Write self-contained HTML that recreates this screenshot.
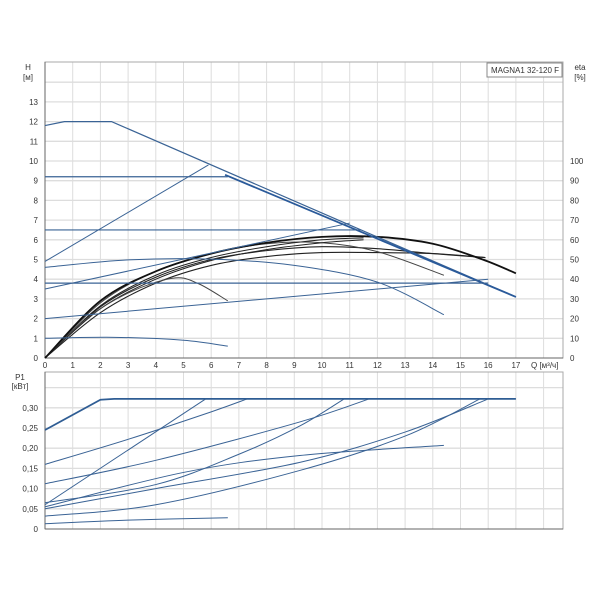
<!DOCTYPE html>
<html><head><meta charset="utf-8"><style>
html,body{margin:0;padding:0;background:#fff;width:600px;height:600px;overflow:hidden}
text{font-family:"Liberation Sans",sans-serif;font-size:8px;fill:#333}
</style></head><body>
<svg id="s" width="600" height="600" xmlns="http://www.w3.org/2000/svg"></svg>
<script>
var s=document.getElementById('s'),h='';
var X0=45,KX=27.7;
function tx(q){return X0+q*KX}
function ty(H){return 358-H*19.7}
function by(p){return 529-p*404}
// top grid
for(var i=0;i<=18;i++){var x=tx(i);h+='<line x1="'+x+'" y1="62" x2="'+x+'" y2="358" stroke="#ddd" stroke-width="1"/>';
 h+='<line x1="'+x+'" y1="372" x2="'+x+'" y2="529" stroke="#ddd" stroke-width="1"/>';}
for(var i=1;i<=14;i++){var y=ty(i);h+='<line x1="45" y1="'+y+'" x2="563" y2="'+y+'" stroke="#ddd" stroke-width="1.3"/>';}
for(var i=1;i<=7;i++){var y=by(i*0.05);h+='<line x1="45" y1="'+y+'" x2="563" y2="'+y+'" stroke="#ddd" stroke-width="1.3"/>';}
// frames
h+='<rect x="45" y="62" width="518" height="296" fill="none" stroke="#aaa"/>';
h+='<rect x="45" y="372" width="518" height="157" fill="none" stroke="#aaa"/>';
h+='<line x1="45" y1="62" x2="45" y2="358" stroke="#666"/><line x1="45" y1="358" x2="563" y2="358" stroke="#666"/>';
h+='<line x1="45" y1="372" x2="45" y2="529" stroke="#666"/><line x1="45" y1="529" x2="563" y2="529" stroke="#666"/>';
// labels
for(var i=0;i<=13;i++)h+='<text x="38" y="'+(ty(i)+3)+'" text-anchor="end">'+i+'</text>';
for(var i=0;i<=10;i++)h+='<text x="570" y="'+(ty(i)+3)+'">'+(i*10)+'</text>';
for(var i=0;i<=17;i++)h+='<text x="'+tx(i)+'" y="368" text-anchor="middle">'+i+'</text>';
var pl=['0','0,05','0,10','0,15','0,20','0,25','0,30'];
for(var i=0;i<7;i++)h+='<text x="38" y="'+(by(i*0.05)+3)+'" text-anchor="end">'+pl[i]+'</text>';
h+='<text x="28" y="70" text-anchor="middle">H</text><text x="28" y="80" text-anchor="middle">[м]</text>';
h+='<text x="580" y="70" text-anchor="middle">eta</text><text x="580" y="80" text-anchor="middle">[%]</text>';
h+='<text x="531" y="368">Q [м³/ч]</text>';
h+='<text x="20" y="380" text-anchor="middle">P1</text><text x="20" y="389" text-anchor="middle">[кВт]</text>';
h+='<rect x="487" y="63" width="75" height="14" fill="#fff" stroke="#888"/><text x="491" y="73">MAGNA1 32-120 F</text>';
function cr(pts,f){ // catmull-rom
 var P=pts.map(function(p){return [tx(p[0]),f(p[1])]});var d='M'+P[0][0]+','+P[0][1];
 for(var i=0;i<P.length-1;i++){var p0=P[i-1]||P[i],p1=P[i],p2=P[i+1],p3=P[i+2]||p2;
 d+=' C'+(p1[0]+(p2[0]-p0[0])/6)+','+(p1[1]+(p2[1]-p0[1])/6)+' '+(p2[0]-(p3[0]-p1[0])/6)+','+(p2[1]-(p3[1]-p1[1])/6)+' '+p2[0]+','+p2[1];}
 return d;}
function line(pts,f,c,w){h+='<path d="'+cr(pts,f)+'" fill="none" stroke="'+c+'" stroke-width="'+w+'"/>';}
function pline(pts,f,c,w){h+='<polyline points="'+pts.map(function(p){return tx(p[0])+','+f(p[1])}).join(' ')+'" fill="none" stroke="'+c+'" stroke-width="'+w+'"/>';}
var B='#3a6395';
// black eta curves
var K='#222';
line([[0,0],[2,2.3],[4,3.8],[6,4.7],[8,5.15],[10,5.35],[12,5.35],[14,5.3],[15.9,5.1]],ty,K,1.1);
line([[0,0],[2,2.6],[4,4.1],[6,5],[8,5.45],[10,5.65],[12,5.55],[14,5.3],[15.9,5.1]],ty,K,1.1);
line([[0,0],[2,2.8],[4,4.4],[6,5.3],[8,5.8],[10,5.85],[12,5.4],[14.4,4.2]],ty,'#444',1);
line([[0,0],[2,2.5],[4,4.0],[6,4.95],[8,5.5],[10,5.85],[11.5,6]],ty,K,1);
line([[0,0],[2,2.65],[4,4.2],[6,5.1],[8,5.65],[10,6],[11.5,6.1]],ty,K,1);
line([[0,0],[1.5,2],[3,3.3],[4.6,4.05],[5.5,3.8],[6.6,2.9]],ty,'#444',1);
line([[0,0],[2,2.9],[4,4.4],[6,5.3],[8,5.85],[10,6.15],[12,6.15],[14,5.8],[15.8,5.0],[17,4.3]],ty,'#111',1.8);
// blue top
pline([[0,11.8],[0.7,12],[2.4,12],[11,6.75],[17,3.1]],ty,B,1.2);
pline([[6.5,9.3],[17,3.1]],ty,'#2a5a9a',1.8);
pline([[0,9.2],[6.6,9.2]],ty,B,1.2);
pline([[0,4.9],[5.9,9.8]],ty,B,1);
pline([[0,6.5],[11.4,6.5]],ty,B,1.2);
pline([[0,3.5],[11,6.85]],ty,B,1);
line([[0,4.6],[3,4.98],[6,5.02],[9,4.7],[12,3.85],[14.4,2.2]],ty,B,1);
pline([[0,3.8],[16,3.8]],ty,B,1.2);
pline([[0,2],[16,4]],ty,B,1);
line([[0,1],[2.5,1.05],[5,0.9],[6.6,0.6]],ty,B,1);
// bottom
pline([[0,0.245],[2,0.32],[2.5,0.322],[17,0.322]],by,'#2f5d94',1.8);
line([[0,0.16],[3,0.222],[6,0.29],[7.3,0.322]],by,B,1);
pline([[0,0.06],[5.8,0.322]],by,B,1);
line([[0,0.112],[4,0.17],[9.2,0.265],[11.7,0.322]],by,B,1);
line([[0,0.065],[4,0.11],[7,0.185],[9.2,0.255],[10.8,0.322]],by,B,1);
line([[0,0.055],[5,0.14],[9.2,0.182],[14.4,0.207]],by,B,1);
line([[0,0.05],[4,0.1],[9.2,0.165],[13,0.24],[16,0.322]],by,B,1);
line([[0,0.032],[4,0.06],[9.2,0.145],[13,0.23],[15.7,0.322]],by,B,1);
line([[0,0.013],[3,0.022],[6.6,0.028]],by,B,1);
s.innerHTML=h;
</script>
</body></html>
